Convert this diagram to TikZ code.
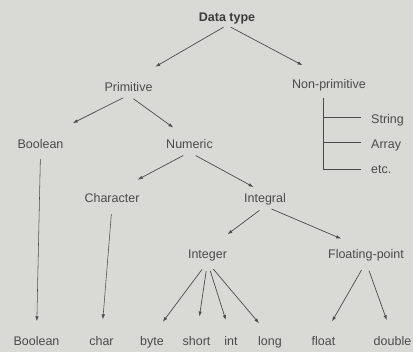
\documentclass[tikz,border=0pt]{standalone}
\usepackage{fontspec}
\setmainfont{Liberation Sans}
\usetikzlibrary{arrows.meta}

\definecolor{paper}{HTML}{D9D9D6}
\definecolor{ink}{HTML}{4B4B4B}

\begin{document}
\begin{tikzpicture}[%
    >={Latex[length=5pt, width=3.4pt]},
    x = 1pt, y = -1pt,
    typename/.style = {%
        anchor = base, inner sep = 0pt,
        text height = 9.5pt, text depth = 3pt,
        text = ink, font = \fontsize{12.5}{14}\selectfont
    },
    branch/.style 2 args = {%
        ->, draw = ink, line width = 0.7pt,
        shorten <= #1, shorten >= #2
    }
]

        % Background of the page.
        \fill[paper] (0, 0) rectangle (413, 352);
        \useasboundingbox (0, 0) rectangle (413, 352);

        % Root and the first two levels.
        \node[typename, font = \fontsize{12.5}{14}\selectfont\bfseries, text = ink!80!black]
            (dtype) at (227, 22) {Data type};
        \node[typename] (prim) at (128.5, 92) {Primitive};
        \node[typename] (nonprim) at (329, 89) {Non-primitive};
        \node[typename] (bool) at (40.5, 149) {Boolean};
        \node[typename] (numeric) at (189.5, 149) {Numeric};
        \node[typename] (charac) at (112, 203) {Character};
        \node[typename] (integral) at (265, 203) {Integral};
        \node[typename] (integer) at (207.5, 259) {Integer};
        \node[typename] (floating) at (366, 259) {Floating-point};

        % Non-primitive members.
        \node[typename, anchor = base west] (str) at (371, 124) {String};
        \node[typename, anchor = base west] (arr) at (371, 149) {Array};
        \node[typename, anchor = base west] (etc) at (371, 174) {etc.};

        % Leaves along the bottom row.
        \node[typename] (lbool) at (36.5, 346) {Boolean};
        \node[typename] (lchar) at (101.5, 346) {char};
        \node[typename] (lbyte) at (152, 346) {byte};
        \node[typename] (lshort) at (196.5, 346) {short};
        \node[typename] (lint) at (231, 346) {int};
        \node[typename] (llong) at (270, 346) {long};
        \node[typename] (lfloat) at (323.5, 346) {float};
        \node[typename] (ldouble) at (392.5, 346) {double};

        % Arrows of the tree.
        \draw[branch = {4pt}{31pt}] (dtype.south) to (prim.north);
        \draw[branch = {4pt}{30pt}] (dtype.south) to (nonprim.north);
        \draw[branch = {6pt}{36pt}] (prim.south) to (bool.north);
        \draw[branch = {6pt}{20pt}] (prim.south) to (numeric.north);
        \draw[branch = {7pt}{29pt}] (numeric.south) to (charac.north);
        \draw[branch = {7pt}{13pt}] (numeric.south) to (integral.north);
        \draw[branch = {7pt}{25pt}] (integral.south) to (integer.north);
        \draw[branch = {7pt}{27pt}] (integral.south) to (floating.north);

        % Long arrows down to the leaves.
        \draw[branch = {7pt}{15pt}, line width = 0.55pt] (bool.south) to (lbool.north);
        \draw[branch = {8pt}{17pt}, line width = 0.55pt] (charac.south) to (lchar.north);
        \draw[branch = {9pt}{18pt}] (integer.south) to (lbyte.north);
        \draw[branch = {9pt}{20pt}] (integer.south) to (lshort.north);
        \draw[branch = {9pt}{17pt}] (integer.south) to (lint.north);
        \draw[branch = {9pt}{17pt}] (integer.south) to (llong.north);
        \draw[branch = {9pt}{17pt}] (floating.south) to (lfloat.north);
        \draw[branch = {9pt}{17pt}] (floating.south) to (ldouble.north);

        % Bracket for the non-primitive types.
        \coordinate (stem) at (323, 98);
        \coordinate (armstr) at ([xshift = -10pt, yshift = 3pt]str.west);
        \coordinate (armarr) at ([xshift = -10pt, yshift = 3pt]arr.west);
        \coordinate (armetc) at ([xshift = -10pt, yshift = 1pt]etc.west);
        \draw[draw = ink, line width = 0.7pt] (stem) |- (armetc);
        \draw[draw = ink, line width = 0.7pt] (stem |- armstr) to (armstr);
        \draw[draw = ink, line width = 0.7pt] (stem |- armarr) to (armarr);
    \end{tikzpicture}
\end{document}
